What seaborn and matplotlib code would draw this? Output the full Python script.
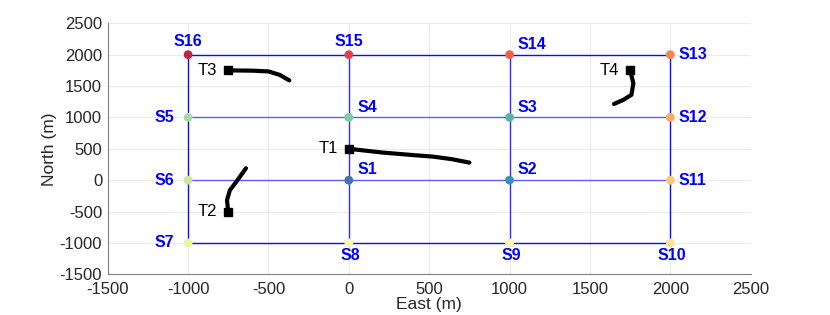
import numpy as np
import pandas as pd
import matplotlib
matplotlib.use("Agg")
import matplotlib.pyplot as plt
import seaborn as sns

# Sensors
sensor_names = ["S1", "S2", "S3", "S4", "S5", "S6", "S7", "S8",
                "S9", "S10", "S11", "S12", "S13", "S14", "S15", "S16"]
sensor_x = [0, 1000, 1000, 0, -1000, -1000, -1000, 0,
            1000, 2000, 2000, 2000, 2000, 1000, 0, -1000]
sensor_y = [0, 0, 1000, 1000, 1000, 0, -1000, -1000,
            -1000, -1000, 0, 1000, 2000, 2000, 2000, 2000]
# label placement: direction of label relative to the sensor
sensor_label_pos = ["ur", "ur", "ur", "ur", "l", "l", "l", "b",
                    "b", "b", "r", "r", "r", "ur", "t", "t"]

# Targets: tracks
t1_x = [0, 210, 400, 525, 640, 750]
t1_y = [500, 440, 400, 375, 335, 280]
t2_x = [-750, -758, -740, -700, -640]
t2_y = [-500, -320, -160, -25, 190]
t3_x = [-750, -600, -500, -430, -370]
t3_y = [1750, 1745, 1733, 1678, 1590]
t4_x = [1750, 1770, 1770, 1758, 1708, 1650]
t4_y = [1750, 1600, 1490, 1360, 1280, 1215]
target_names = ["T1", "T2", "T3", "T4"]

x_ticks = [-1500, -1000, -500, 0, 500, 1000, 1500, 2000, 2500]
y_ticks = [-1500, -1000, -500, 0, 500, 1000, 1500, 2000, 2500]

sns.set_style("white")
plt.rcParams["font.family"] = ["Liberation Sans", "DejaVu Sans"]

fig = plt.figure(figsize=(8.3, 3.15), dpi=100)
ax = fig.add_axes([107.7 / 830, 1 - 274.3 / 315, (750.7 - 107.7) / 830, (274.3 - 23.3) / 315])

# network lines
blue = "#0000ff"
grid_levels = [-1000, 0, 1000, 2000]
for v in grid_levels:
    outer = v in (-1000, 2000)
    ax.plot([-1000, 2000], [v, v], color=blue, lw=1.0, alpha=0.95 if outer else 0.6, zorder=2)
    ax.plot([v, v], [-1000, 2000], color=blue, lw=1.0, alpha=0.95 if outer else 0.8, zorder=2)

sdf = pd.DataFrame({"x": sensor_x, "y": sensor_y, "name": sensor_names})
palette = sns.color_palette("Spectral_r", 16)
sns.scatterplot(data=sdf, x="x", y="y", hue="name", palette=palette,
                hue_order=sensor_names, s=40, edgecolor="none", legend=False,
                ax=ax, zorder=4)

offsets = {"ur": (6, 2, "left", "bottom"), "l": (-10, 0, "right", "center"),
           "r": (6, 0, "left", "center"), "b": (1, -3.5, "center", "top"),
           "t": (0, 4, "center", "bottom")}
for name, x, y, pos in zip(sensor_names, sensor_x, sensor_y, sensor_label_pos):
    dx, dy, ha, va = offsets[pos]
    ax.annotate(name, (x, y), xytext=(dx, dy), textcoords="offset points",
                ha=ha, va=va, color=blue, fontsize=11.5, fontweight="bold", zorder=5)

tracks = [(t1_x, t1_y), (t2_x, t2_y), (t3_x, t3_y), (t4_x, t4_y)]
for name, (tx, ty) in zip(target_names, tracks):
    tdf = pd.DataFrame({"x": tx, "y": ty})
    sns.lineplot(data=tdf, x="x", y="y", sort=False, color="black", lw=3,
                 ax=ax, zorder=6)
    ax.plot(tx[0], ty[0], marker="s", color="black", ms=6, zorder=7)
    ax.annotate(name, (tx[0], ty[0]), xytext=(-8, 0), textcoords="offset points",
                ha="right", va="center", color="black", fontsize=12, zorder=7)

ax.set_xlim(-1500, 2500)
ax.set_ylim(-1500, 2500)
ax.set_xticks(x_ticks)
ax.set_yticks(y_ticks)
ax.set_xticklabels([str(v) for v in x_ticks])
ax.set_yticklabels([str(v) for v in y_ticks])
ax.grid(True, color="#ebebeb", lw=0.8, zorder=0)
ax.set_axisbelow(True)
for s in ["top", "right"]:
    ax.spines[s].set_visible(False)
for s in ["left", "bottom"]:
    ax.spines[s].set_color("#808080")
    ax.spines[s].set_linewidth(0.8)
ax.tick_params(direction="in", length=4, color="#808080", labelcolor="#262626",
               labelsize=12)
ax.tick_params(axis="x", pad=5.5)
ax.tick_params(axis="y", pad=4)
ax.set_xlabel("East (m)", fontsize=12.5, color="#262626", labelpad=0)
ax.set_ylabel("North (m)", fontsize=12.5, color="#262626", labelpad=2)

fig.savefig("out.png", dpi=100)
